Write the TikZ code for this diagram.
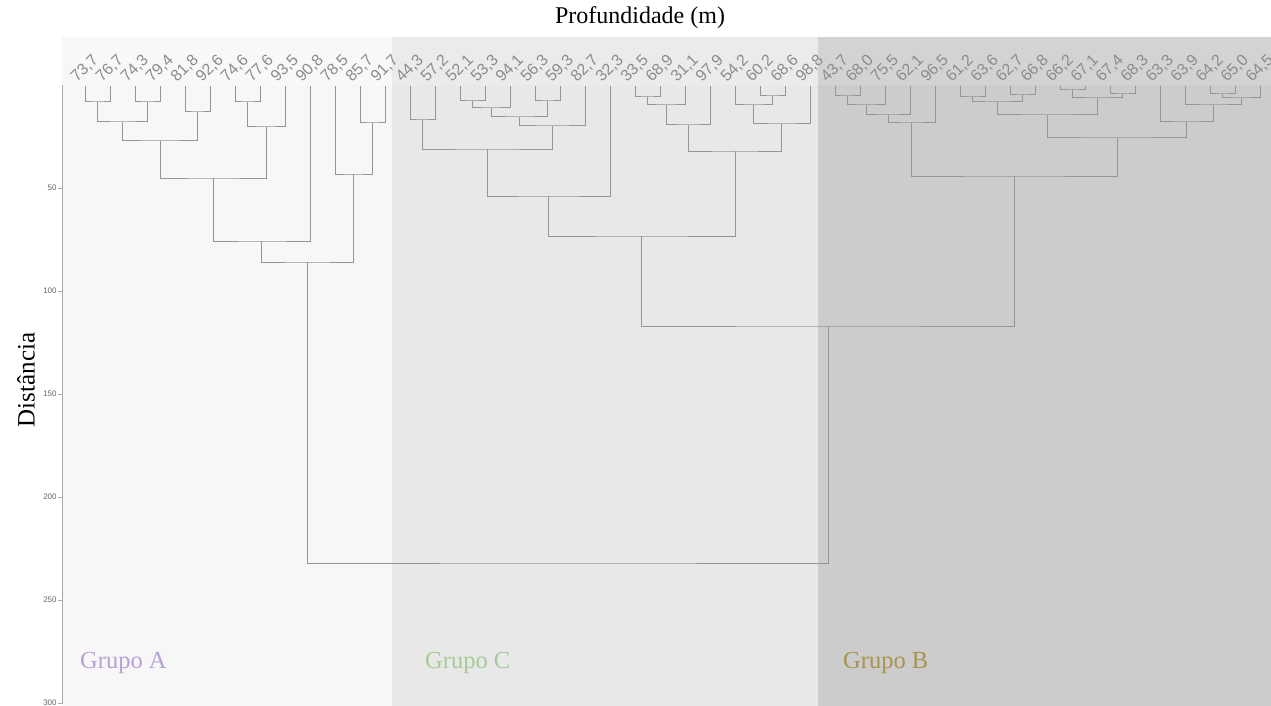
\documentclass[tikz,border=0pt]{standalone}
\usepackage{fontspec}
\setmainfont{Liberation Serif}
\newfontfamily\lblfont{Liberation Sans}
\definecolor{bgA}{HTML}{F7F7F7}
\definecolor{bgC}{HTML}{E8E8E8}
\definecolor{bgB}{HTML}{CCCCCC}
\definecolor{dendcol}{HTML}{959595}
\definecolor{lblcol}{HTML}{8C8C8C}
\definecolor{axcol}{HTML}{AAAAAA}
\definecolor{tickcol}{HTML}{666666}
\definecolor{grpA}{HTML}{B7A0D6}
\definecolor{grpC}{HTML}{A6CB98}
\definecolor{grpB}{HTML}{AA9350}
\newcommand\mrg[3]{\draw[dend] (#1) |- (#3) -| (#2);}
\begin{document}
\begin{tikzpicture}[x=1pt,y=-1pt,
  dend/.style={draw=dendcol,line width=1pt},
  leaflbl/.style={anchor=base west,rotate=45,inner sep=0pt,text=lblcol,font=\lblfont\fontsize{16}{16}\selectfont},
  ticklbl/.style={anchor=east,inner sep=0pt,text=tickcol,font=\lblfont\fontsize{8}{8}\selectfont},
  grplbl/.style={anchor=base west,inner sep=0pt,font=\fontsize{24.5}{24.5}\selectfont},
  ttl/.style={inner sep=0pt,font=\fontsize{24}{24}\selectfont}]
\useasboundingbox (0,0) rectangle (1271,706);
\fill[white] (0,0) rectangle (1271,706);
% group backgrounds
\fill[bgA] (62,37) rectangle (392,706);
\fill[bgC] (392,37) rectangle (818,706);
\fill[bgB] (818,37) rectangle (1271,706);
\fill[white,opacity=0.15] (70,37) rectangle (1271,85);
% axis
\draw[axcol,line width=0.9pt] (62,85) -- (62,704);
\foreach \v in {50,100,150,200,250,300}{
  \coordinate (tk\v) at (62,{85+2.06*\v});
  \draw[axcol,line width=0.8pt] (tk\v) -- ++(-4,0) node[ticklbl,left=1pt] (tl\v) {\v};
}
% title and axis title
\node[ttl] (title) at (640,18) {Profundidade (m)};
\node[ttl,rotate=90,font=\fontsize{25}{25}\selectfont] (ytitle) at (26,380) {Distância};
% leaves
\foreach \a/\b [count=\i] in {73/7,76/7,74/3,79/4,81/8,92/6,74/6,77/6,93/5,90/8,78/5,85/7,91/7,
  44/3,57/2,52/1,53/3,94/1,56/3,59/3,82/7,32/3,33/5,68/9,31/1,97/9,54/2,60/2,68/6,98/8,
  43/7,68/0,75/5,62/1,96/5,61/2,63/6,62/7,66/8,66/2,67/1,67/4,68/3,63/3,63/9,64/2,65/0,64/5}{
  \coordinate (L\i) at ({60+25*\i},86);
  \node[leaflbl] (t\i) at ({52+25*\i},83) {\a,\b};
}
% internal nodes: group A
\coordinate (n1) at (97.5,102);   \mrg{L1}{L2}{n1}
\coordinate (n2) at (147.5,102);  \mrg{L3}{L4}{n2}
\coordinate (n3) at (122.5,122);  \mrg{n1}{n2}{n3}
\coordinate (n4) at (197.5,112);  \mrg{L5}{L6}{n4}
\coordinate (n5) at (160,141);    \mrg{n3}{n4}{n5}
\coordinate (n6) at (247.5,102);  \mrg{L7}{L8}{n6}
\coordinate (n7) at (266.25,127); \mrg{n6}{L9}{n7}
\coordinate (n8) at (213.1,178);  \mrg{n5}{n7}{n8}
\coordinate (n9) at (261.6,241);  \mrg{n8}{L10}{n9}
\coordinate (n10) at (372.5,123); \mrg{L12}{L13}{n10}
\coordinate (n11) at (353.75,174);\mrg{L11}{n10}{n11}
\coordinate (nA) at (307.7,262);  \mrg{n9}{n11}{nA}
% group C
\coordinate (c1) at (422.5,120);  \mrg{L14}{L15}{c1}
\coordinate (c2) at (472.5,101);  \mrg{L16}{L17}{c2}
\coordinate (c3) at (491.25,108); \mrg{c2}{L18}{c3}
\coordinate (c4) at (547.5,101);  \mrg{L19}{L20}{c4}
\coordinate (c5) at (519.4,117);  \mrg{c3}{c4}{c5}
\coordinate (c6) at (552.2,126);  \mrg{c5}{L21}{c6}
\coordinate (c7) at (487.3,149);  \mrg{c1}{c6}{c7}
\coordinate (c8) at (548.7,196);  \mrg{c7}{L22}{c8}
\coordinate (c9) at (647.5,97);   \mrg{L23}{L24}{c9}
\coordinate (c10) at (666.25,105);\mrg{c9}{L25}{c10}
\coordinate (c11) at (688.1,125); \mrg{c10}{L26}{c11}
\coordinate (c12) at (772.5,96);  \mrg{L28}{L29}{c12}
\coordinate (c13) at (753.75,105);\mrg{L27}{c12}{c13}
\coordinate (c14) at (781.9,124); \mrg{c13}{L30}{c14}
\coordinate (c15) at (735,151);   \mrg{c11}{c14}{c15}
\coordinate (nC) at (641.8,236);  \mrg{c8}{c15}{nC}
% group B
\coordinate (b1) at (847.5,96);   \mrg{L31}{L32}{b1}
\coordinate (b2) at (866.25,105); \mrg{b1}{L33}{b2}
\coordinate (b3) at (888.1,115);  \mrg{b2}{L34}{b3}
\coordinate (b4) at (911.6,123);  \mrg{b3}{L35}{b4}
\coordinate (b5) at (972.5,97);   \mrg{L36}{L37}{b5}
\coordinate (b6) at (1022.5,95);  \mrg{L38}{L39}{b6}
\coordinate (b7) at (997.5,102);  \mrg{b5}{b6}{b7}
\coordinate (b8) at (1072.5,90);  \mrg{L40}{L41}{b8}
\coordinate (b9) at (1122.5,94);  \mrg{L42}{L43}{b9}
\coordinate (b10) at (1097.5,98); \mrg{b8}{b9}{b10}
\coordinate (b11) at (1047.5,115);\mrg{b7}{b10}{b11}
\coordinate (b12) at (1222.5,94); \mrg{L46}{L47}{b12}
\coordinate (b13) at (1241.25,98);\mrg{b12}{L48}{b13}
\coordinate (b14) at (1213.1,105);\mrg{L45}{b13}{b14}
\coordinate (b15) at (1186.6,122);\mrg{L44}{b14}{b15}
\coordinate (b16) at (1117,138);  \mrg{b11}{b15}{b16}
\coordinate (nB) at (1014.3,176); \mrg{b4}{b16}{nB}
% top merges
\coordinate (nBC) at (828.1,326); \mrg{nC}{nB}{nBC}
\coordinate (root) at (567.9,563);\mrg{nA}{nBC}{root}
% group labels
\node[grplbl,text=grpA] (gA) at (80,668) {Grupo A};
\node[grplbl,text=grpC] (gC) at (425,668) {Grupo C};
\node[grplbl,text=grpB] (gB) at (843,668) {Grupo B};
\end{tikzpicture}
\end{document}
